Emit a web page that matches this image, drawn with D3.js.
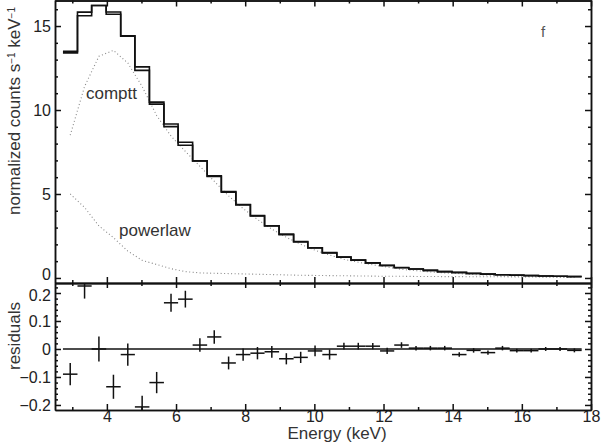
<!DOCTYPE html>
<meta charset="utf-8">
<style>
body { margin: 0; background: #fff; }
svg { font-family: "Liberation Sans", Arial, sans-serif; }
.axis path, .axis line { stroke: #111; }
.axis text { fill: #222; }
</style>
<body>
<script src="https://d3js.org/d3.v7.min.js"></script>
<script>

// bin edges (keV)
var edges = [2.73, 3.15, 3.56, 3.98, 4.40, 4.81, 5.23, 5.65, 6.06, 6.48, 6.90, 7.31,
  7.73, 8.15, 8.56, 8.98, 9.40, 9.81, 10.23, 10.65, 11.06, 11.48, 11.90, 12.31,
  12.73, 13.15, 13.56, 13.98, 14.40, 14.81, 15.23, 15.65, 16.06, 16.48, 16.90, 17.31, 17.73];

// data and folded model (normalized counts s-1 keV-1), one per bin
var dataRate = [13.40, 15.83, 16.22, 15.70, 14.40, 12.36, 10.35, 9.17, 8.08, 6.97, 6.08, 5.10,
  4.35, 3.69, 3.10, 2.57, 2.14, 1.79, 1.49, 1.25, 1.07, 0.90, 0.74, 0.62,
  0.53, 0.45, 0.38, 0.32, 0.27, 0.23, 0.19, 0.16, 0.14, 0.12, 0.10, 0.08];
var modelRate = [13.49, 15.61, 16.22, 15.84, 14.42, 12.57, 10.47, 9.01, 7.90, 6.96, 6.04, 5.15,
  4.37, 3.71, 3.11, 2.61, 2.17, 1.80, 1.51, 1.24, 1.06, 0.89, 0.75, 0.61,
  0.53, 0.45, 0.38, 0.34, 0.275, 0.24, 0.19, 0.17, 0.15, 0.12, 0.10, 0.085];

// model components
var compttRate = [8.5, 11.4, 13.2, 13.55, 12.8, 11.4, 9.67, 8.45, 7.54, 6.65, 5.76, 4.89,
  4.13, 3.48, 2.91, 2.42, 2.01, 1.65, 1.37, 1.11, 0.94, 0.78, 0.65, 0.51,
  0.44, 0.36, 0.30, 0.26, 0.20, 0.17, 0.12, 0.11, 0.09, 0.06, 0.05, 0.035];
var powerlawRate = [5.0, 4.2, 3.1, 2.4, 1.6, 1.05, 0.8, 0.55, 0.38, 0.3, 0.28, 0.26,
  0.24, 0.22, 0.2, 0.18, 0.16, 0.15, 0.14, 0.13, 0.12, 0.11, 0.1, 0.1,
  0.09, 0.09, 0.08, 0.08, 0.07, 0.07, 0.07, 0.06, 0.06, 0.06, 0.05, 0.05];

// residuals (data - model) and their errors
var resid = [-0.09, 0.225, 0.0, -0.135, -0.02, -0.207, -0.12, 0.165, 0.178, 0.014, 0.043, -0.05,
  -0.02, -0.015, -0.01, -0.035, -0.03, -0.007, -0.02, 0.01, 0.01, 0.01, -0.007, 0.014,
  0.003, 0.003, 0.003, -0.02, -0.005, -0.013, 0.003, -0.006, -0.006, 0.0, 0.0, -0.005];
var residErr = [0.04, 0.045, 0.045, 0.043, 0.04, 0.04, 0.038, 0.032, 0.03, 0.024, 0.024, 0.023,
  0.022, 0.022, 0.021, 0.02, 0.02, 0.019, 0.018, 0.012, 0.012, 0.011, 0.011, 0.01,
  0.008, 0.008, 0.008, 0.008, 0.008, 0.008, 0.008, 0.007, 0.007, 0.007, 0.007, 0.007];

var xMajor = [4, 6, 8, 10, 12, 14, 16, 18];
var xMinor = [3, 5, 7, 9, 11, 13, 15, 17];
var yTopMajor = [0, 5, 10, 15];
var yTopMinor = [1, 2, 3, 4, 6, 7, 8, 9, 11, 12, 13, 14, 16];
var yResMajor = [-0.2, -0.1, 0, 0.1, 0.2];
var yResMinor = [-0.18, -0.16, -0.14, -0.12, -0.08, -0.06, -0.04, -0.02,
  0.02, 0.04, 0.06, 0.08, 0.12, 0.14, 0.16, 0.18, 0.22];

var W = 615, H = 448;
var L = 55, R = 591, T = 0.5, MID = 283, B = 410;

var svg = d3.select("body").append("svg")
    .attr("width", W)
    .attr("height", H);

var x = d3.scaleLinear().domain([2.5, 18]).range([L, R]);
var yTop = d3.scaleLinear().domain([-0.3, 16.55]).range([MID, 0]);
var yRes = d3.scaleLinear().domain([-0.218, 0.2357]).range([B, MID]);

var bins = edges.slice(0, -1).map(function(e, i) {
  return {lo: e, hi: edges[i + 1], mid: (e + edges[i + 1]) / 2,
    data: dataRate[i], model: modelRate[i], comp: compttRate[i], pl: powerlawRate[i],
    r: resid[i], err: residErr[i]};
});

svg.append("clipPath").attr("id", "clipTop")
  .append("rect").attr("x", L).attr("y", 0).attr("width", R - L).attr("height", MID);
svg.append("clipPath").attr("id", "clipRes")
  .append("rect").attr("x", L).attr("y", MID).attr("width", R - L).attr("height", B - MID);

// ---- axes helper
function ax(axisFn, scale, values, size, pos, labels, pad) {
  var a = axisFn(scale).tickValues(values).tickSize(size).tickSizeOuter(0)
    .tickPadding(pad == null ? 4 : pad);
  if (!labels) a.tickFormat("");
  else a.tickFormat(labels);
  var g = svg.append("g").attr("class", "axis").attr("transform", pos).call(a);
  g.selectAll("path, line").attr("stroke-width", 1.5);
  g.selectAll("text").style("font-size", "16px");
  return g;
}

// top panel frame
ax(d3.axisBottom, x, xMajor, -6, "translate(0," + MID + ")");
ax(d3.axisBottom, x, xMinor, -3, "translate(0," + MID + ")");
ax(d3.axisTop, x, xMajor, -6, "translate(0," + T + ")");
ax(d3.axisTop, x, xMinor, -3, "translate(0," + T + ")");
var yTopAxis = ax(d3.axisLeft, yTop, yTopMajor, -6, "translate(" + L + ",0)", d3.format("d"));
yTopAxis.selectAll("text").filter(function(d) { return d === 0; }).attr("dy", "0.1em");
ax(d3.axisLeft, yTop, yTopMinor, -3, "translate(" + L + ",0)");
ax(d3.axisRight, yTop, yTopMajor, -6, "translate(" + R + ",0)");
ax(d3.axisRight, yTop, yTopMinor, -3, "translate(" + R + ",0)");

// residual panel frame
var resFmt = function(d) { return d === 0 ? "0" : d3.format(".1f")(d); };
ax(d3.axisBottom, x, xMajor, -6, "translate(0," + B + ")", d3.format("d"), 1);
ax(d3.axisBottom, x, xMinor, -3, "translate(0," + B + ")");
ax(d3.axisTop, x, xMajor, -5, "translate(0," + MID + ")");
ax(d3.axisTop, x, xMinor, -3, "translate(0," + MID + ")");
var yResAxis = ax(d3.axisLeft, yRes, yResMajor, -6, "translate(" + L + ",0)", resFmt);
yResAxis.selectAll("text").filter(function(d) { return d === 0.2; }).attr("dy", "0.45em");
ax(d3.axisLeft, yRes, yResMinor, -3, "translate(" + L + ",0)");
ax(d3.axisRight, yRes, yResMajor, -6, "translate(" + R + ",0)");
ax(d3.axisRight, yRes, yResMinor, -3, "translate(" + R + ",0)");

// ---- top panel: histograms and components
var topG = svg.append("g").attr("clip-path", "url(#clipTop)");

function stepPts(key) {
  var pts = bins.map(function(b) { return [b.lo, b[key]]; });
  pts.push([bins[bins.length - 1].hi, bins[bins.length - 1][key]]);
  return pts;
}
var step = d3.line()
  .x(function(d) { return x(d[0]); })
  .y(function(d) { return yTop(d[1]); })
  .curve(d3.curveStepAfter);

var comp = d3.line()
  .x(function(d) { return x(d.mid); });

topG.append("path")
  .attr("d", comp.y(function(d) { return yTop(d.comp); })(bins))
  .attr("fill", "none").attr("stroke", "#888").attr("stroke-width", 1.1)
  .attr("stroke-dasharray", "1,2.5");
topG.append("path")
  .attr("d", comp.y(function(d) { return yTop(d.pl); })(bins))
  .attr("fill", "none").attr("stroke", "#888").attr("stroke-width", 1.1)
  .attr("stroke-dasharray", "1,2.5");

topG.append("path")
  .attr("d", step(stepPts("model")))
  .attr("fill", "none").attr("stroke", "#111").attr("stroke-width", 1.6);
topG.append("path")
  .attr("d", step(stepPts("data")))
  .attr("fill", "none").attr("stroke", "#111").attr("stroke-width", 1.6);

// labels inside the top panel
svg.append("text").attr("x", 86).attr("y", 99).text("comptt")
  .style("font-size", "17px").attr("fill", "#333");
svg.append("text").attr("x", 119).attr("y", 236).text("powerlaw")
  .style("font-size", "17px").attr("fill", "#333");
svg.append("text").attr("x", 541).attr("y", 37).text("f")
  .style("font-size", "15px").attr("fill", "#555");

// ---- residual panel
var res = svg.append("g").attr("clip-path", "url(#clipRes)");

res.append("line")
  .attr("x1", x(edges[0])).attr("x2", x(edges[edges.length - 1]))
  .attr("y1", yRes(0)).attr("y2", yRes(0))
  .attr("stroke", "#111").attr("stroke-width", 1.5);

var cross = res.selectAll(".cross").data(bins).enter().append("g").attr("class", "cross");
cross.append("line")
  .attr("x1", function(d) { return x(d.lo); })
  .attr("x2", function(d) { return x(d.hi); })
  .attr("y1", function(d) { return yRes(d.r); })
  .attr("y2", function(d) { return yRes(d.r); })
  .attr("stroke", "#111").attr("stroke-width", 1.5);
cross.append("line")
  .attr("x1", function(d) { return x(d.mid); })
  .attr("x2", function(d) { return x(d.mid); })
  .attr("y1", function(d) { return yRes(d.r - d.err); })
  .attr("y2", function(d) { return yRes(d.r + d.err); })
  .attr("stroke", "#111").attr("stroke-width", 1.5);

// ---- axis titles
var yl = svg.append("text")
  .attr("transform", "translate(20,111) rotate(-90)")
  .attr("text-anchor", "middle")
  .style("font-size", "17px").attr("fill", "#333");
yl.append("tspan").text("normalized counts s");
yl.append("tspan").text("\u22121").style("font-size", "10px").attr("dy", -5);
yl.append("tspan").text(" keV").attr("dy", 5);
yl.append("tspan").text("\u22121").style("font-size", "10px").attr("dy", -5);

svg.append("text")
  .attr("transform", "translate(20,336) rotate(-90)")
  .attr("text-anchor", "middle")
  .style("font-size", "17px").attr("fill", "#333")
  .text("residuals");

svg.append("text")
  .attr("x", 337).attr("y", 439)
  .attr("text-anchor", "middle")
  .style("font-size", "17px").attr("fill", "#333")
  .text("Energy (keV)");

</script>
</body>
